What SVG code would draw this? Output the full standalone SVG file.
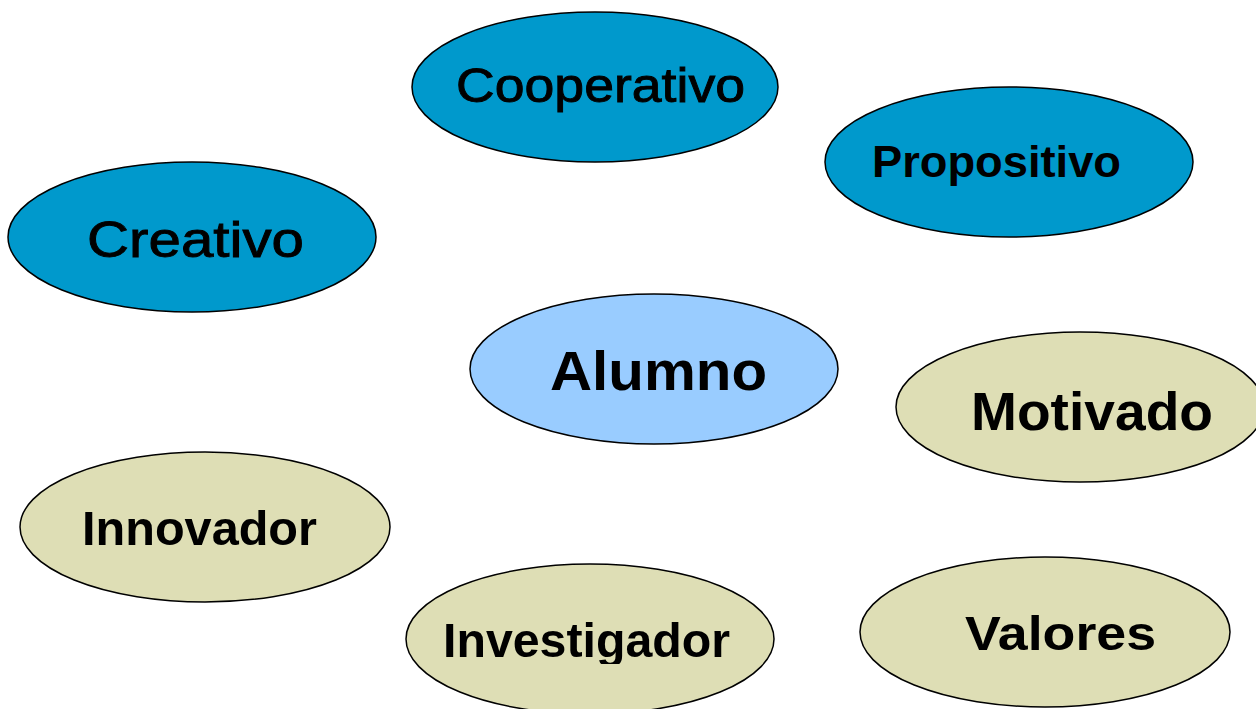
<svg xmlns="http://www.w3.org/2000/svg" width="1256" height="709" viewBox="0 0 1256 709">
<style>
.n{stroke:#000;stroke-width:1.5}
.d{fill:#0099CC}
.l{fill:#99CCFF}
.b{fill:#DEDEB5}
text{font-family:"Liberation Sans",Arial,sans-serif;fill:#000}
.r{font-weight:normal;stroke:#000;stroke-width:0.9}
.w{font-weight:bold}
</style>
<defs>
<clipPath id="clipInv"><rect x="0" y="0" width="1256" height="664"/></clipPath>
</defs>
<rect width="1256" height="709" fill="#fff"/>
<g id="connectors"></g>
<g id="cooperativo"><ellipse class="n d" cx="595" cy="87" rx="183" ry="75"/><text class="r" x="456" y="102" font-size="48" textLength="289" lengthAdjust="spacingAndGlyphs">Cooperativo</text></g>
<g id="propositivo"><ellipse class="n d" cx="1009" cy="162" rx="184" ry="75"/><text class="w" x="872" y="177" font-size="45" textLength="249" lengthAdjust="spacingAndGlyphs">Propositivo</text></g>
<g id="creativo"><ellipse class="n d" cx="192" cy="237" rx="184" ry="75"/><text class="r" x="87" y="257" font-size="50" textLength="217" lengthAdjust="spacingAndGlyphs">Creativo</text></g>
<g id="alumno"><ellipse class="n l" cx="654" cy="369" rx="184" ry="75"/><text class="w" x="550" y="390" font-size="56" textLength="217" lengthAdjust="spacingAndGlyphs">Alumno</text></g>
<g id="motivado"><ellipse class="n b" cx="1080" cy="407" rx="184" ry="75"/><text class="w" x="971" y="430" font-size="53" textLength="242" lengthAdjust="spacingAndGlyphs">Motivado</text></g>
<g id="innovador"><ellipse class="n b" cx="205" cy="527" rx="185" ry="75"/><text class="w" x="82" y="545" font-size="48" textLength="235" lengthAdjust="spacingAndGlyphs">Innovador</text></g>
<g id="investigador"><ellipse class="n b" cx="590" cy="639" rx="184" ry="75"/><text class="w" x="443" y="657" font-size="48" textLength="287" lengthAdjust="spacingAndGlyphs" clip-path="url(#clipInv)">Investigador</text></g>
<g id="valores"><ellipse class="n b" cx="1045" cy="632" rx="185" ry="75"/><text class="w" x="965" y="650" font-size="49" textLength="191" lengthAdjust="spacingAndGlyphs">Valores</text></g>
</svg>
